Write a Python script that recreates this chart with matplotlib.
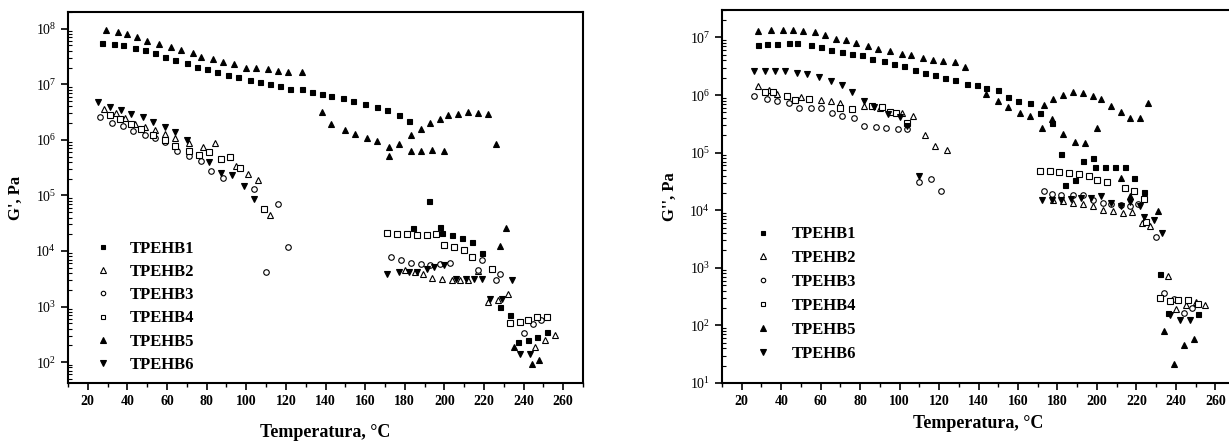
import numpy as np
import matplotlib
matplotlib.use("Agg")
import matplotlib.pyplot as plt
from matplotlib.ticker import LogLocator, NullFormatter, MultipleLocator

plt.rcParams["font.family"] = "serif"
plt.rcParams["font.serif"] = ["Liberation Serif", "DejaVu Serif"]
plt.rcParams["mathtext.fontset"] = "stix"

labels = ["TPEHB1", "TPEHB2", "TPEHB3", "TPEHB4", "TPEHB5", "TPEHB6"]

# ---- G' (storage modulus), temperature in C, values as log10(G'/Pa)
t1_gp = [27, 33, 38, 44, 49, 54, 59, 64, 70, 75, 80, 85, 91, 96, 102, 107, 112, 117, 122, 128,
         133, 138, 143, 149, 154, 160, 166, 171, 177, 182, 184, 192, 198, 199, 204, 209, 214, 219,
         228, 233, 237, 242, 247, 252]
lg1_gp = [7.75, 7.73, 7.71, 7.65, 7.61, 7.56, 7.49, 7.43, 7.39, 7.32, 7.28, 7.23, 7.17, 7.13, 7.08,
          7.05, 7.00, 6.97, 6.92, 6.92, 6.86, 6.83, 6.79, 6.75, 6.70, 6.65, 6.59, 6.53, 6.44, 6.34,
          4.42, 4.90, 4.44, 4.33, 4.28, 4.24, 4.17, 3.96, 2.99, 2.84, 2.36, 2.40, 2.46, 2.55]
t2_gp = [28, 34, 39, 44, 49, 54, 59, 64, 71, 78, 84, 95, 101, 106, 112,
         180, 185, 189, 194, 199, 204, 208, 212, 217, 222, 227, 232, 246, 251, 256]
lg2_gp = [6.56, 6.48, 6.39, 6.29, 6.24, 6.18, 6.10, 6.04, 5.94, 5.88, 5.95, 5.53, 5.38, 5.27, 4.64,
          3.65, 3.62, 3.58, 3.52, 3.49, 3.47, 3.47, 3.48, 3.64, 3.08, 3.12, 3.23, 2.27, 2.40, 2.49]
t3_gp = [26, 32, 38, 43, 49, 54, 59, 65, 71, 77, 82, 88, 104, 110, 116, 121,
         173, 178, 183, 188, 193, 198, 203, 217, 219, 226, 228, 240, 245, 249]
lg3_gp = [6.42, 6.31, 6.25, 6.16, 6.08, 6.03, 5.97, 5.80, 5.71, 5.62, 5.44, 5.31, 5.12, 3.62, 4.84, 4.08,
          3.89, 3.83, 3.79, 3.77, 3.74, 3.77, 3.79, 3.66, 3.83, 3.48, 3.58, 2.52, 2.68, 2.76]
t4_gp = [31, 36, 42, 47, 53, 59, 64, 71, 76, 81, 87, 92, 97, 109,
         171, 176, 181, 186, 191, 196, 200, 205, 210, 214, 224, 233, 238, 242, 247, 252]
lg4_gp = [6.45, 6.37, 6.29, 6.19, 6.09, 6.00, 5.89, 5.80, 5.73, 5.79, 5.65, 5.70, 5.50, 4.75,
          4.33, 4.31, 4.30, 4.28, 4.28, 4.30, 4.10, 4.07, 4.01, 3.90, 3.68, 2.70, 2.73, 2.76, 2.82, 2.81]
t5_gp = [29, 35, 40, 45, 50, 56, 62, 67, 73, 77, 83, 88, 94, 100, 105, 111, 116, 121, 128,
         138, 143, 150, 155, 161, 166, 172, 172, 177, 183, 183, 188, 188, 193, 194, 198, 200, 202,
         207, 212, 217, 222, 226, 228, 231, 235, 244, 248]
lg5_gp = [7.97, 7.94, 7.90, 7.85, 7.78, 7.73, 7.68, 7.62, 7.56, 7.50, 7.45, 7.41, 7.37, 7.30, 7.29,
          7.27, 7.24, 7.23, 7.22, 6.50, 6.28, 6.18, 6.10, 6.04, 5.98, 5.87, 5.71, 5.92, 6.09, 5.80,
          6.20, 5.80, 6.30, 5.81, 6.38, 5.80, 6.44, 6.47, 6.50, 6.48, 6.46, 5.92, 4.09, 4.42, 2.27,
          1.97, 2.03]
t6_gp = [25, 31, 37, 42, 48, 53, 59, 64, 70, 81, 87, 93, 99, 104,
         171, 177, 182, 186, 191, 195, 200, 206, 211, 215, 219, 223, 229, 234, 238, 243]
lg6_gp = [6.68, 6.60, 6.54, 6.47, 6.41, 6.33, 6.23, 6.14, 6.00, 5.60, 5.41, 5.36, 5.17, 4.94,
          3.59, 3.62, 3.62, 3.62, 3.67, 3.71, 3.74, 3.49, 3.49, 3.50, 3.49, 3.14, 3.14, 3.47, 2.15, 2.15]

# ---- G'' (loss modulus), log10(G''/Pa)
t1_gpp = [28, 33, 38, 44, 48, 55, 60, 65, 71, 76, 81, 86, 92, 97, 102, 108, 113, 118, 123, 128, 134,
          139, 144, 150, 155, 160, 166, 171, 177, 182, 184, 189, 193, 198, 199, 204, 209, 214, 219, 224,
          232, 236, 251]
lg1_gpp = [6.87, 6.89, 6.89, 6.91, 6.91, 6.87, 6.83, 6.79, 6.74, 6.72, 6.69, 6.63, 6.60, 6.54, 6.50,
           6.44, 6.39, 6.35, 6.30, 6.26, 6.20, 6.18, 6.12, 6.09, 5.97, 5.90, 5.87, 5.69, 5.52, 4.97,
           4.43, 4.53, 4.85, 4.91, 4.75, 4.75, 4.75, 4.75, 4.56, 4.31, 2.89, 2.21, 2.19]
t2_gpp = [28, 34, 38, 50, 60, 65, 70, 82, 90, 101, 107, 113, 118, 124,
          178, 183, 188, 193, 198, 203, 208, 213, 218, 223, 227, 236, 240, 245, 250, 255]
lg2_gpp = [6.16, 6.08, 6.02, 5.96, 5.91, 5.90, 5.87, 5.81, 5.78, 5.68, 5.64, 5.31, 5.12, 5.04,
           4.17, 4.16, 4.13, 4.10, 4.07, 4.01, 3.98, 3.95, 3.97, 3.78, 3.72, 2.85, 2.29, 2.35, 2.40, 2.35]
t3_gpp = [26, 33, 38, 44, 49, 55, 60, 66, 71, 77, 82, 88, 93, 99, 104, 110, 116, 121,
          173, 177, 182, 188, 193, 198, 203, 207, 212, 217, 221, 230, 234, 239, 244, 248]
lg3_gpp = [5.98, 5.94, 5.90, 5.86, 5.78, 5.77, 5.77, 5.68, 5.64, 5.60, 5.46, 5.45, 5.42, 5.41, 5.41,
           4.49, 4.55, 4.33, 4.33, 4.28, 4.26, 4.26, 4.27, 4.17, 4.13, 4.10, 4.09, 4.07, 4.10, 3.54,
           2.57, 2.45, 2.21, 2.30]
t4_gpp = [32, 36, 43, 47, 54, 70, 76, 86, 91, 95, 98, 104,
          171, 176, 181, 186, 191, 196, 200, 205, 214, 219, 224, 225, 232, 237, 241, 246, 251]
lg4_gpp = [6.05, 6.06, 5.99, 5.91, 5.93, 5.77, 5.76, 5.81, 5.80, 5.70, 5.69, 5.51,
           4.69, 4.68, 4.67, 4.65, 4.63, 4.59, 4.53, 4.49, 4.39, 4.33, 4.20, 3.79, 2.48, 2.42, 2.44,
           2.44, 2.38]
t5_gpp = [28, 35, 41, 46, 51, 57, 62, 68, 73, 78, 84, 89, 95, 101, 106, 112, 117, 122, 128, 133,
          144, 150, 155, 161, 166, 172, 173, 177, 178, 183, 183, 188, 189, 193, 194, 198, 200, 202,
          207, 212, 212, 217, 217, 222, 226, 231, 234, 239, 244, 249]
lg5_gpp = [7.12, 7.13, 7.13, 7.13, 7.11, 7.09, 7.05, 6.98, 6.95, 6.90, 6.86, 6.80, 6.76, 6.72, 6.69,
           6.65, 6.61, 6.59, 6.57, 6.49, 6.02, 5.90, 5.80, 5.69, 5.64, 5.43, 5.83, 5.58, 5.93, 6.00,
           5.32, 6.05, 5.19, 6.03, 5.17, 5.99, 5.42, 5.93, 5.81, 5.70, 4.56, 5.60, 4.24, 5.60, 5.87,
           3.99, 1.90, 1.33, 1.66, 1.76]
t6_gpp = [26, 32, 37, 42, 48, 53, 59, 65, 71, 76, 82, 87, 94, 100, 104, 110,
          172, 177, 182, 187, 192, 197, 202, 207, 212, 217, 222, 224, 229, 233, 237, 242, 247]
lg6_gpp = [6.42, 6.41, 6.41, 6.41, 6.39, 6.37, 6.31, 6.25, 6.17, 6.05, 5.90, 5.80, 5.67, 5.62, 5.46,
           4.60, 4.17, 4.17, 4.17, 4.19, 4.21, 4.22, 4.24, 4.13, 4.08, 4.15, 4.08, 3.88, 3.83, 3.60,
           2.18, 2.09, 2.09]

# marker styles: (marker, filled, size)
styles = [("s", True, 3.6), ("^", False, 4.6), ("o", False, 4.0),
          ("s", False, 4.0), ("^", True, 4.8), ("v", True, 4.8)]

gp_data = [(t1_gp, lg1_gp), (t2_gp, lg2_gp), (t3_gp, lg3_gp),
           (t4_gp, lg4_gp), (t5_gp, lg5_gp), (t6_gp, lg6_gp)]
gpp_data = [(t1_gpp, lg1_gpp), (t2_gpp, lg2_gpp), (t3_gpp, lg3_gpp),
            (t4_gpp, lg4_gpp), (t5_gpp, lg5_gpp), (t6_gpp, lg6_gpp)]

fig = plt.figure(figsize=(12.29, 4.48), dpi=100)
W, H = 1229, 448
ax1 = fig.add_axes([68 / W, 1 - 383 / H, 515 / W, 371 / H])
ax2 = fig.add_axes([722 / W, 1 - 383 / H, 513 / W, 373 / H])


def draw(ax, data, ylim, ylabel, leg_anchor, textpad, spacing, xlabelpad):
    for (t, lg), (m, filled, ms), lab in zip(data, styles, labels):
        ax.plot(t, 10 ** np.array(lg), linestyle="none", marker=m, ms=ms,
                mfc="black" if filled else "white", mec="black", mew=0.8, label=lab)
    ax.set_yscale("log")
    ax.set_xlim(10, 270)
    ax.set_ylim(*ylim)
    ax.xaxis.set_major_locator(MultipleLocator(20))
    ax.xaxis.set_minor_locator(MultipleLocator(10))
    ax.yaxis.set_major_locator(LogLocator(base=10, numticks=20))
    ax.yaxis.set_minor_locator(LogLocator(base=10, subs=np.arange(2, 10), numticks=100))
    ax.yaxis.set_minor_formatter(NullFormatter())
    ax.tick_params(axis="x", which="major", direction="out", length=5, width=1.2,
                   labelsize=10, top=False)
    ax.tick_params(axis="x", which="minor", direction="out", length=3, width=1.0, top=False)
    ax.tick_params(axis="y", which="major", direction="out", length=5, width=1.2,
                   labelsize=10, right=False)
    ax.tick_params(axis="y", which="minor", direction="in", length=3, width=0.8, right=False)
    for lbl in ax.get_xticklabels():
        lbl.set_fontweight("bold")
    for s in ax.spines.values():
        s.set_linewidth(1.5)
    ax.set_ylabel(ylabel, fontsize=12, fontweight="bold", labelpad=8)
    ax.set_xlabel("Temperatura, °C", fontsize=13, fontweight="bold", labelpad=xlabelpad)
    ax.legend(loc="upper left", bbox_to_anchor=leg_anchor, frameon=False, numpoints=1,
              handlelength=1.0, handletextpad=textpad, borderpad=0, borderaxespad=0,
              labelspacing=spacing, markerscale=0.8,
              prop={"family": "serif", "weight": "bold", "size": 12})


draw(ax1, gp_data, (42, 2e8), "G', Pa", (0.052, 0.383), 1.1, 0.43, 12)
draw(ax2, gpp_data, (10, 3e7), "G'', Pa", (0.064, 0.42), 1.24, 0.47, 5)

fig.savefig("out.png", dpi=100)
